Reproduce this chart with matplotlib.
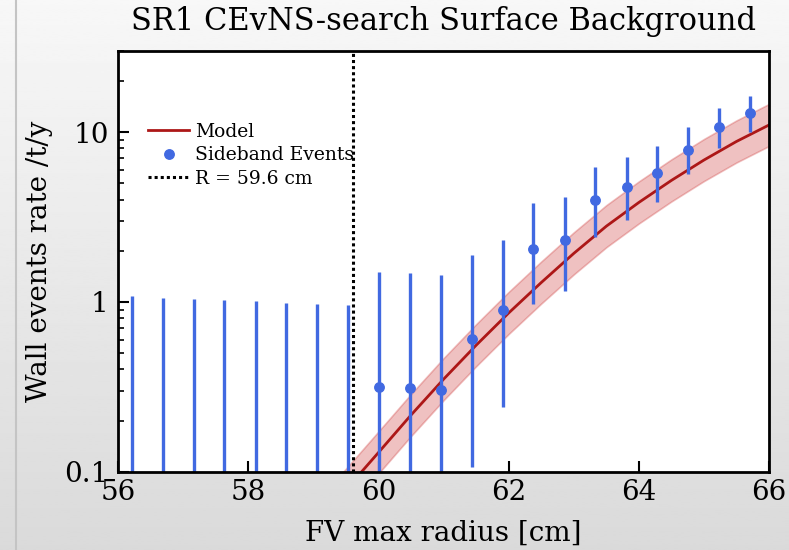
import numpy as np
import matplotlib
matplotlib.use("Agg")
import matplotlib.pyplot as plt

plt.rcParams['font.family'] = 'DejaVu Serif'

# sideband event rates per FV max radius bin (rate 0 -> only upper limit)
radius = [56.21, 56.68, 57.16, 57.63, 58.11, 58.58, 59.06, 59.53,
          60.01, 60.48, 60.96, 61.43, 61.91, 62.38, 62.86, 63.33,
          63.81, 64.28, 64.76, 65.23, 65.71]
rate = [0, 0, 0, 0, 0, 0, 0, 0,
        0.314, 0.309, 0.302, 0.601, 0.893, 2.04, 2.31, 3.96,
        4.74, 5.77, 7.87, 10.7, 12.9]
rate_lo = [0, 0, 0, 0, 0, 0, 0, 0,
           0, 0, 0, 0.107, 0.241, 0.966, 1.16, 2.41,
           3.05, 3.87, 5.64, 8.09, 10.0]
rate_hi = [1.08, 1.056, 1.037, 1.023, 1.006, 0.986, 0.973, 0.959,
           1.50, 1.47, 1.43, 1.88, 2.31, 3.8, 4.15, 6.22,
           7.13, 8.32, 10.7, 13.9, 16.4]

# surface background model and its uncertainty band
model_r = [59.4, 59.5, 60.0, 60.5, 61.0, 61.5, 62.0, 62.5, 63.0,
           63.5, 64.0, 64.5, 65.0, 65.5, 66.0]
model_rate = [0.071, 0.0785, 0.130, 0.216, 0.351, 0.556, 0.861, 1.30, 1.93,
              2.79, 3.85, 5.19, 6.84, 8.80, 11.0]
model_unc = 1.33  # multiplicative

r_cut = 59.6

rate = np.array(rate)
yerr = [rate - np.array(rate_lo), np.array(rate_hi) - rate]
model_rate = np.array(model_rate)

fig = plt.figure(figsize=(7.89, 5.5), dpi=100)

# light grey window background
bg = fig.add_axes([0, 0, 1, 1], zorder=-1)
grad = np.linspace(0.97, 0.855, 256).reshape(-1, 1)
bg.imshow(grad, aspect='auto', cmap='gray', vmin=0, vmax=1, extent=[0, 1, 0, 1])
bg.axvline(15.5 / 789, color='#c4c4c4', lw=1.5)
bg.set_xlim(0, 1)
bg.set_ylim(0, 1)
bg.axis('off')

ax = fig.add_axes([0.15, 0.1424, 0.8247, 0.7649])
ax.set_facecolor('white')

ax.fill_between(model_r, model_rate / model_unc, model_rate * model_unc,
                facecolor='#cc3333', edgecolor='#cc3333', alpha=0.3, lw=1.2)
ax.plot(model_r, model_rate, color='#ad1717', lw=2, label='Model')
ax.errorbar(radius, rate, yerr=yerr, fmt='none', ecolor='royalblue', elinewidth=2.4)
ax.plot(radius[8:], rate[8:], 'o', color='royalblue', ms=6.8, label='Sideband Events')
ax.axvline(r_cut, color='black', ls=(0, (1, 1)), lw=2.2, label='R = %.1f cm' % r_cut)

ax.set_yscale('log')
ax.set_xlim(56, 66)
ax.set_ylim(0.1, 30)
ax.set_xticks([56, 58, 60, 62, 64, 66])
ax.set_yticks([0.1, 1, 10])
ax.set_yticklabels(['0.1', '1', '10'])
ax.tick_params(which='major', direction='in', length=8, width=1.5, labelsize=20, pad=5)
ax.tick_params(which='minor', direction='in', length=4.5, width=1.2)
ax.tick_params(axis='y', pad=7)
for s in ax.spines.values():
    s.set_linewidth(2)

ax.set_xlabel('FV max radius [cm]', fontsize=20, labelpad=10)
ax.set_ylabel('Wall events rate /t/y', fontsize=20, labelpad=8)
ax.set_title('SR1 CEvNS-search Surface Background', fontsize=22, pad=15)

ax.legend(loc='upper left', bbox_to_anchor=(0.02, 0.87), frameon=False, fontsize=13.5,
          labelspacing=0.3, handlelength=2.2, handletextpad=0.3, numpoints=1)

fig.savefig('out.png', dpi=100)
